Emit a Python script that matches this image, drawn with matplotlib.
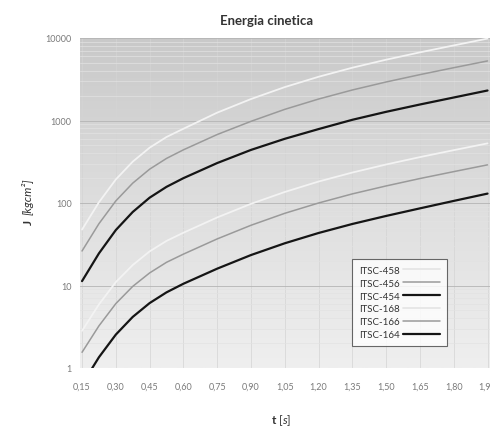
import matplotlib.pyplot as plt
import numpy as np
from matplotlib.colors import LinearSegmentedColormap
from matplotlib.ticker import FixedLocator, FuncFormatter, NullFormatter

plt.rcParams['font.family'] = ['Lato', 'DejaVu Sans']
plt.rcParams['mathtext.fontset'] = 'custom'
plt.rcParams['mathtext.rm'] = 'Lato'
plt.rcParams['mathtext.it'] = 'Lato:italic'
plt.rcParams['mathtext.bf'] = 'Lato:bold'

# time axis (s)
t = [0.15, 0.225, 0.30, 0.375, 0.45, 0.525, 0.60, 0.75, 0.90, 1.05, 1.20,
     1.35, 1.50, 1.65, 1.80, 1.95]
t_ticks = [0.15, 0.30, 0.45, 0.60, 0.75, 0.90, 1.05, 1.20, 1.35, 1.50, 1.65,
           1.80, 1.95]

# J [kgcm^2]
itsc_458 = [47.6, 102, 193, 317, 468, 631, 794, 1245, 1820, 2541, 3388, 4365,
            5458, 6699, 8128, 9840]
itsc_456 = [26.2, 56.1, 106, 174, 257, 347, 441, 676, 977, 1365, 1820, 2344,
            2931, 3597, 4365, 5272]
itsc_454 = [11.3, 24.5, 47.0, 77.8, 116, 157, 200, 305, 440, 600, 787, 1020,
            1274, 1563, 1900, 2310]
itsc_168 = [2.82, 5.9, 11.0, 17.7, 25.9, 34.7, 43.6, 66.8, 97.7, 136, 182,
            234, 293, 360, 437, 528]
itsc_166 = [1.55, 3.24, 6.03, 9.75, 14.2, 19.1, 24.0, 36.7, 53.7, 75.0, 100,
            129, 161, 198, 240, 290]
itsc_164 = [0.63, 1.35, 2.54, 4.16, 6.12, 8.26, 10.5, 16.0, 23.4, 32.5, 43.3,
            55.7, 69.7, 86.1, 106, 130]

series = [
    ('ITSC-458', itsc_458, '#f3f3f3', 1.3),
    ('ITSC-456', itsc_456, '#9a9a9a', 1.1),
    ('ITSC-454', itsc_454, '#151515', 1.6),
    ('ITSC-168', itsc_168, '#f3f3f3', 1.3),
    ('ITSC-166', itsc_166, '#9a9a9a', 1.1),
    ('ITSC-164', itsc_164, '#151515', 1.6),
]

fig = plt.figure(figsize=(4.90, 4.27), dpi=100)
fig.patch.set_facecolor('white')
ax = fig.add_axes([80 / 490, 1 - 369 / 427, 410 / 490, 330 / 427])

# gray gradient background, darker at the top
bg = LinearSegmentedColormap.from_list('bg', ['#c9c9c9', '#dedede', '#efefef'])
grad = np.linspace(0, 1, 256).reshape(-1, 1)
ax.imshow(grad, extent=[0, 1, 0, 1], transform=ax.transAxes, cmap=bg,
          aspect='auto', zorder=0, origin='upper')

for name, vals, col, lw in series:
    ax.plot(t, vals, color=col, lw=lw, label=name, zorder=3,
            solid_capstyle='round', solid_joinstyle='round')

ax.set_yscale('log')
ax.set_ylim(1, 10000)
ax.set_xlim(0.141, 1.961)

ax.xaxis.set_major_locator(FixedLocator(t_ticks))
ax.xaxis.set_major_formatter(FuncFormatter(lambda v, p: f'{v:.2f}'.replace('.', ',')))
ax.yaxis.set_major_formatter(FuncFormatter(lambda v, p: f'{int(v)}'))
ax.yaxis.set_minor_formatter(NullFormatter())

ax.grid(True, which='major', axis='y', color='#b4b4b4', lw=0.6, zorder=1)
ax.grid(True, which='minor', axis='y', color='#e2e2e2', lw=0.5, zorder=1)
ax.grid(True, which='major', axis='x', color='#d4d4d4', lw=0.5, zorder=1)

ax.tick_params(axis='both', which='both', length=0, labelsize=6.5,
               labelcolor='#7a7a7a')
ax.tick_params(axis='x', pad=10)
ax.tick_params(axis='y', pad=6)
for s in ax.spines.values():
    s.set_visible(False)

fig.text(267 / 490, 1 - 21 / 427, 'Energia cinetica', ha='center', va='center',
         fontsize=9.5, fontweight='bold', color='#333333')
fig.text(281 / 490, 1 - 421 / 427, r'$\mathbf{t}\ \mathit{[s]}$', ha='center',
         va='center', fontsize=8.5, color='#333333')
fig.text(28 / 490, 1 - 222 / 427, 'J', ha='center', va='center', fontsize=8.5,
         fontweight='bold', color='#333333', rotation=90)
fig.text(28 / 490, 1 - 215 / 427, '[kgcm²]', ha='center', va='bottom',
         fontsize=8.5, fontstyle='italic', color='#333333', rotation=90)

leg = ax.legend(loc='upper left', bbox_to_anchor=(352 / 490, 1 - 260 / 427),
                bbox_transform=fig.transFigure, fontsize=7, frameon=True,
                fancybox=False, handlelength=3.8, handletextpad=0.4,
                borderpad=0.7, labelspacing=0.4, markerfirst=False,
                borderaxespad=0)
leg.get_frame().set_edgecolor('#444444')
leg.get_frame().set_linewidth(0.8)
leg.get_frame().set_facecolor('white')
for txt in leg.get_texts():
    txt.set_color('#333333')
for line in leg.get_lines():
    if line.get_color() == '#f3f3f3':
        line.set_color('#e6e6e6')

fig.savefig('out.png', dpi=100)
